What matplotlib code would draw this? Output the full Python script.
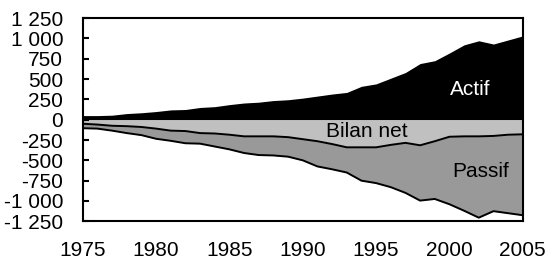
import numpy as np
import matplotlib.pyplot as plt
from matplotlib.ticker import FuncFormatter

plt.rcParams["font.family"] = ["Liberation Sans", "DejaVu Sans"]

years = list(range(1975, 2006))
actif = [50, 50, 55, 75, 85, 100, 120, 125, 150, 160, 185, 205, 215, 235, 245,
         265, 290, 315, 335, 410, 440, 510, 580, 690, 725, 820, 920, 970, 930, 980, 1030]
passif = [-105, -110, -135, -165, -190, -235, -260, -290, -295, -330, -365, -410, -435,
          -440, -455, -500, -575, -610, -650, -750, -780, -830, -900, -995, -975, -1040,
          -1120, -1205, -1125, -1150, -1175]
bilan_net = [-50, -60, -75, -80, -90, -110, -135, -140, -165, -170, -185, -205, -205,
             -205, -215, -240, -265, -300, -340, -340, -340, -310, -285, -315, -265, -210,
             -205, -205, -200, -185, -180]
yticks = list(range(-1250, 1251, 250))
xticks = list(range(1975, 2006, 5))


def fmt_fr(v, pos):
    s = f"{abs(int(v)):,}".replace(",", " ")
    return ("-" if v < 0 else "") + s


fig = plt.figure(figsize=(5.48, 2.61), dpi=100)
ax = fig.add_axes([0.151, 0.152, 0.803, 0.779])

ax.fill_between(years, 0, actif, color="black", linewidth=0)
ax.fill_between(years, 0, passif, color="#999999", linewidth=0)
ax.fill_between(years, 0, bilan_net, color="#c0c0c0", linewidth=0)
ax.plot(years, passif, color="black", linewidth=1.4)
ax.plot(years, bilan_net, color="black", linewidth=1.4)

ax.text(2001.4, 376, "Actif", color="white", fontsize=15, ha="center", va="center")
ax.text(1994.4, -142, "Bilan net", color="black", fontsize=15, ha="center", va="center")
ax.text(2002.1, -634, "Passif", color="black", fontsize=15, ha="center", va="center")

ax.set_xlim(1975, 2005)
ax.set_ylim(-1250, 1250)
ax.set_yticks(yticks)
ax.set_xticks(xticks)
ax.yaxis.set_major_formatter(FuncFormatter(fmt_fr))
ax.tick_params(axis="y", direction="in", length=4.5, width=1.5, pad=14, labelsize=15)
ax.tick_params(axis="x", length=0, pad=14.5, labelsize=15)
for sp in ax.spines.values():
    sp.set_linewidth(1.5)

fig.savefig("out.png", dpi=100)
